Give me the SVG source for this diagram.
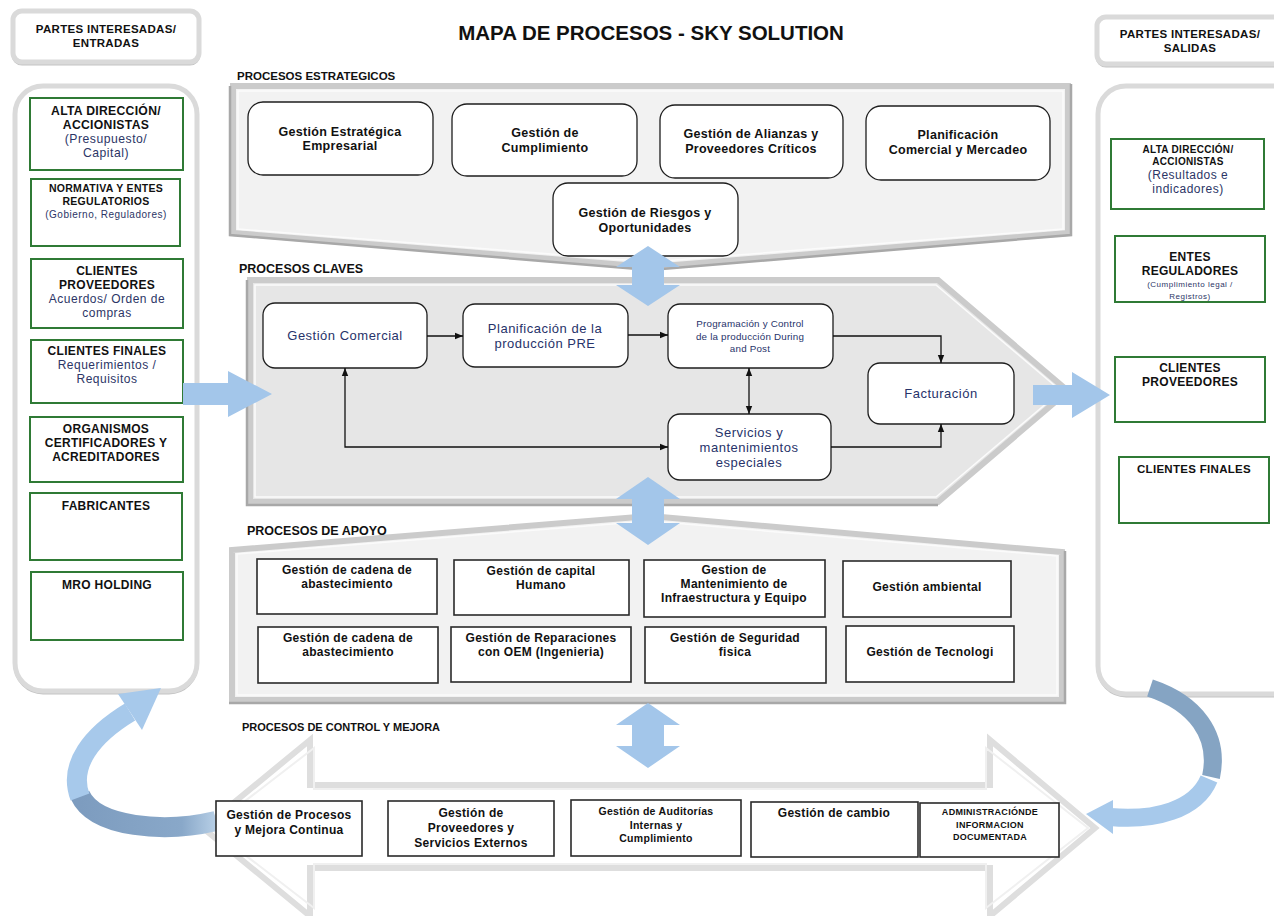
<svg xmlns="http://www.w3.org/2000/svg" width="1274" height="916" viewBox="0 0 1274 916">
  <style>
    text { font-family: "Liberation Sans", Arial, sans-serif; text-anchor: middle; letter-spacing: 0.3px; }
    .h { font-weight: 700; fill: #111; }
    .sec { font-weight: 700; fill: #111; text-anchor: start; letter-spacing: 0; }
    .nv { fill: #2c3566; letter-spacing: 0.5px; }
    .kp { fill: #27336a; letter-spacing: 0.5px; }
    .frame { fill: #fff; stroke: #dadada; stroke-width: 5; }
    .shadow { fill: none; stroke: #c4c4c4; stroke-width: 3; }
    .panel { stroke: #cbcbcb; stroke-width: 6; stroke-linejoin: miter; }
    .edge { fill: none; stroke: #a8a8a8; stroke-width: 2.5; stroke-linejoin: miter; }
    .hl { fill: none; stroke: #fbfbfb; stroke-width: 1.5; }
    .green { fill: #fff; stroke: #2f7a35; stroke-width: 2; }
    .rbox { fill: #fff; stroke: #1e1e1e; stroke-width: 1.3; }
    .sbox { fill: #fff; stroke: #2a2a2a; stroke-width: 1.6; }
    .blue { fill: #a3c6ea; }
    .conn { fill: none; stroke: #111; stroke-width: 1.3; }
  </style>
  <defs>
    <marker id="ah" viewBox="0 0 10 10" refX="10" refY="5" markerWidth="8" markerHeight="8" markerUnits="userSpaceOnUse" orient="auto-start-reverse">
      <path d="M0,1 L10,5 L0,9 z" fill="#111"/>
    </marker>
    <linearGradient id="darkL" x1="0" y1="0" x2="1" y2="0">
      <stop offset="0" stop-color="#7d9cbf"/>
      <stop offset="0.75" stop-color="#89a8c9"/>
      <stop offset="1" stop-color="#b7cfe6"/>
    </linearGradient>
  </defs>

  <rect width="1274" height="916" fill="#fff"/>

  <!-- title -->
  <text x="651" y="40" class="h" font-size="20.5" style="letter-spacing:0">MAPA DE PROCESOS - SKY SOLUTION</text>

  <!-- stakeholder columns -->
  <g id="header-entradas">
    <rect x="13" y="13" width="186" height="51" rx="9" class="shadow"/>
    <rect x="13" y="11" width="186" height="51" rx="9" class="frame"/>
    <text x="106" y="33" class="h" font-size="11.5">PARTES INTERESADAS/</text>
    <text x="106" y="47" class="h" font-size="11.5">ENTRADAS</text>
  </g>
  <g id="header-salidas">
    <rect x="1097" y="19" width="200" height="47" rx="9" class="shadow"/>
    <rect x="1097" y="17" width="200" height="47" rx="9" class="frame"/>
    <text x="1190" y="38" class="h" font-size="11.5">PARTES INTERESADAS/</text>
    <text x="1190" y="52" class="h" font-size="11.5">SALIDAS</text>
  </g>
  <g id="panel-entradas">
    <rect x="15" y="88" width="182" height="605" rx="28" class="shadow"/>
    <rect x="15" y="86" width="182" height="605" rx="28" class="frame"/>
  </g>
  <g id="panel-salidas">
    <rect x="1098" y="88" width="210" height="608" rx="28" class="shadow"/>
    <rect x="1098" y="86" width="210" height="608" rx="28" class="frame"/>
  </g>

  <!-- process bands -->
  <g id="band-estrategicos">
    <polygon points="233,86 1068,86 1068,233 650,267 233,233" class="panel" fill="#f2f2f2"/>
    <polyline points="230,86 230,235 650,270 1071,235 1071,84" class="edge"/>
    <polygon points="238,91 1063,91 1063,229 650,262 238,229" class="hl"/>
  </g>
  <g id="band-claves">
    <polygon points="250,280 938,280 1068,391 938,502 250,502" class="panel" fill="#e6e6e6"/>
    <polyline points="247,280 247,505 938,505" class="edge" stroke="#b5b5b5"/>
    <polygon points="255,285 936,285 1061,391 936,497 255,497" class="hl"/>
  </g>
  <g id="band-apoyo">
    <polygon points="232,550 650,516 1062,552 1062,700 232,700" class="panel" fill="#f2f2f2"/>
    <polyline points="1065,551 1065,703 229,703" class="edge" stroke="#b8b8b8"/>
    <polygon points="237,554 650,521 1057,556 1057,695 237,695" class="hl"/>
  </g>
  <g id="band-control">
    <polygon points="203,828 310,740 310,785 990,785 990,740 1095,828 990,916 990,868 310,868 310,916" fill="#fff" stroke="#dedede" stroke-width="6"/>
    <polygon points="210,828 314,748 314,789 986,789 986,748 1088,828 986,908 986,864 314,864 314,908" fill="none" stroke="#f0f0f0" stroke-width="2"/>
  </g>

  <text x="237" y="80" class="sec" font-size="11.5">PROCESOS ESTRATEGICOS</text>
  <text x="239" y="273" class="sec" font-size="12.5">PROCESOS CLAVES</text>
  <text x="247" y="535" class="sec" font-size="12.5">PROCESOS DE APOYO</text>
  <text x="242" y="731" class="sec" font-size="11">PROCESOS DE CONTROL Y MEJORA</text>

  <!-- feedback loops -->
  <g id="loop-left">
    <path d="M216,821 C165,833 95,828 80,795" fill="none" stroke="url(#darkL)" stroke-width="20"/>
    <path d="M80,797 C68,765 92,735 130,712" fill="none" stroke="#a7c9eb" stroke-width="20"/>
    <polygon points="142,730 118,694 161,688" fill="#a7c9eb"/>
  </g>
  <g id="loop-right">
    <path d="M1150,688 C1195,703 1220,735 1211,777" fill="none" stroke="#85a4c3" stroke-width="18"/>
    <path d="M1209,779 C1196,810 1155,821 1110,817" fill="none" stroke="#a7c9eb" stroke-width="18"/>
    <polygon points="1113,800 1113,834 1086,814" fill="#a7c9eb"/>
  </g>

  <!-- inputs -->
  <g id="in-alta-direccion">
    <rect x="30" y="98" width="153" height="72" class="green"/>
    <text x="106" y="115" class="h" font-size="12.2">ALTA DIRECCIÓN/</text>
    <text x="106" y="129" class="h" font-size="12.2">ACCIONISTAS</text>
    <text x="106" y="143" class="nv" font-size="12.2">(Presupuesto/</text>
    <text x="106" y="157" class="nv" font-size="12.2">Capital)</text>
  </g>
  <g id="in-normativa">
    <rect x="31" y="179" width="149" height="67" class="green"/>
    <text x="106" y="192" class="h" font-size="10.5">NORMATIVA Y ENTES</text>
    <text x="106" y="205" class="h" font-size="10.5">REGULATORIOS</text>
    <text x="106" y="218" class="nv" font-size="10">(Gobierno, Reguladores)</text>
  </g>
  <g id="in-clientes-proveedores">
    <rect x="31" y="259" width="152" height="69" class="green"/>
    <text x="107" y="275" class="h" font-size="12">CLIENTES</text>
    <text x="107" y="289" class="h" font-size="12">PROVEEDORES</text>
    <text x="107" y="303" class="nv" font-size="12">Acuerdos/ Orden de</text>
    <text x="107" y="317" class="nv" font-size="12">compras</text>
  </g>
  <g id="in-clientes-finales">
    <rect x="31" y="340" width="152" height="63" class="green"/>
    <text x="107" y="355" class="h" font-size="12">CLIENTES FINALES</text>
    <text x="107" y="369" class="nv" font-size="12">Requerimientos /</text>
    <text x="107" y="383" class="nv" font-size="12">Requisitos</text>
  </g>
  <g id="in-organismos">
    <rect x="30" y="417" width="153" height="65" class="green"/>
    <text x="106" y="433" class="h" font-size="12">ORGANISMOS</text>
    <text x="106" y="447" class="h" font-size="12">CERTIFICADORES Y</text>
    <text x="106" y="461" class="h" font-size="12">ACREDITADORES</text>
  </g>
  <g id="in-fabricantes">
    <rect x="30" y="493" width="152" height="67" class="green"/>
    <text x="106" y="510" class="h" font-size="12">FABRICANTES</text>
  </g>
  <g id="in-mro">
    <rect x="31" y="572" width="152" height="68" class="green"/>
    <text x="107" y="589" class="h" font-size="12">MRO HOLDING</text>
  </g>

  <!-- outputs -->
  <g id="out-alta-direccion">
    <rect x="1111" y="139" width="153" height="70" class="green"/>
    <text x="1188" y="153" class="h" font-size="10">ALTA DIRECCIÓN/</text>
    <text x="1188" y="165" class="h" font-size="10">ACCIONISTAS</text>
    <text x="1188" y="179" class="nv" font-size="12">(Resultados e</text>
    <text x="1188" y="193" class="nv" font-size="12">indicadores)</text>
  </g>
  <g id="out-entes">
    <rect x="1115" y="236" width="150" height="66" class="green"/>
    <text x="1190" y="261" class="h" font-size="12">ENTES</text>
    <text x="1190" y="275" class="h" font-size="12">REGULADORES</text>
    <text x="1190" y="287" class="nv" font-size="8">(Cumplimiento legal /</text>
    <text x="1190" y="299" class="nv" font-size="8">Registros)</text>
  </g>
  <g id="out-clientes-proveedores">
    <rect x="1115" y="357" width="150" height="65" class="green"/>
    <text x="1190" y="372" class="h" font-size="12">CLIENTES</text>
    <text x="1190" y="386" class="h" font-size="12">PROVEEDORES</text>
  </g>
  <g id="out-clientes-finales">
    <rect x="1119" y="457" width="150" height="66" class="green"/>
    <text x="1194" y="473" class="h" font-size="11.5">CLIENTES FINALES</text>
  </g>

  <!-- strategic processes -->
  <g id="est-estrategica">
    <rect x="248" y="102" width="185" height="73" rx="15" class="rbox"/>
    <text x="340" y="136" class="h" font-size="12.5">Gestión Estratégica</text>
    <text x="340" y="150" class="h" font-size="12.5">Empresarial</text>
  </g>
  <g id="est-cumplimiento">
    <rect x="452" y="104" width="185" height="72" rx="15" class="rbox"/>
    <text x="545" y="137" class="h" font-size="12.5">Gestión de</text>
    <text x="545" y="152" class="h" font-size="12.5">Cumplimiento</text>
  </g>
  <g id="est-alianzas">
    <rect x="660" y="105" width="183" height="73" rx="15" class="rbox"/>
    <text x="751" y="138" class="h" font-size="12.5">Gestión de Alianzas y</text>
    <text x="751" y="153" class="h" font-size="12.5">Proveedores Críticos</text>
  </g>
  <g id="est-planificacion">
    <rect x="866" y="106" width="184" height="74" rx="15" class="rbox"/>
    <text x="958" y="139" class="h" font-size="12.5">Planificación</text>
    <text x="958" y="154" class="h" font-size="12.5">Comercial y Mercadeo</text>
  </g>
  <g id="est-riesgos">
    <rect x="553" y="183" width="185" height="73" rx="15" class="rbox"/>
    <text x="645" y="217" class="h" font-size="12.5">Gestión de Riesgos y</text>
    <text x="645" y="232" class="h" font-size="12.5">Oportunidades</text>
  </g>

  <!-- key processes -->
  <g id="key-comercial">
    <rect x="263" y="303" width="164" height="65" rx="12" class="rbox"/>
    <text x="345" y="340" class="kp" font-size="13">Gestión Comercial</text>
  </g>
  <g id="key-pre">
    <rect x="463" y="304" width="165" height="63" rx="12" class="rbox"/>
    <text x="545" y="333" class="kp" font-size="13">Planificación de la</text>
    <text x="545" y="348" class="kp" font-size="13">producción PRE</text>
  </g>
  <g id="key-programacion">
    <rect x="668" y="304" width="165" height="64" rx="12" class="rbox"/>
    <text x="750" y="327" class="kp" font-size="9.8" style="letter-spacing:0.2px">Programación y Control</text>
    <text x="750" y="340" class="kp" font-size="9.8" style="letter-spacing:0.2px">de la producción During</text>
    <text x="750" y="352" class="kp" font-size="9.8" style="letter-spacing:0.2px">and Post</text>
  </g>
  <g id="key-servicios">
    <rect x="668" y="414" width="163" height="66" rx="12" class="rbox"/>
    <text x="749" y="437" class="kp" font-size="13">Servicios y</text>
    <text x="749" y="452" class="kp" font-size="13">mantenimientos</text>
    <text x="749" y="467" class="kp" font-size="13">especiales</text>
  </g>
  <g id="key-facturacion">
    <rect x="868" y="363" width="146" height="61" rx="12" class="rbox"/>
    <text x="941" y="398" class="kp" font-size="13">Facturación</text>
  </g>

  <!-- support processes -->
  <g id="apo-cadena-1">
    <rect x="257" y="559" width="180" height="55" class="sbox"/>
    <text x="347" y="574" class="h" font-size="12">Gestión de cadena de</text>
    <text x="347" y="588" class="h" font-size="12">abastecimiento</text>
  </g>
  <g id="apo-capital">
    <rect x="454" y="560" width="175" height="55" class="sbox"/>
    <text x="541" y="575" class="h" font-size="12">Gestión de capital</text>
    <text x="541" y="589" class="h" font-size="12">Humano</text>
  </g>
  <g id="apo-mantenimiento">
    <rect x="644" y="560" width="181" height="57" class="sbox"/>
    <text x="734" y="574" class="h" font-size="12">Gestion de</text>
    <text x="734" y="588" class="h" font-size="12">Mantenimiento de</text>
    <text x="734" y="602" class="h" font-size="12">Infraestructura y Equipo</text>
  </g>
  <g id="apo-ambiental">
    <rect x="843" y="561" width="168" height="56" class="sbox"/>
    <text x="927" y="591" class="h" font-size="12">Gestión ambiental</text>
  </g>
  <g id="apo-cadena-2">
    <rect x="258" y="627" width="180" height="56" class="sbox"/>
    <text x="348" y="642" class="h" font-size="12">Gestión de cadena de</text>
    <text x="348" y="656" class="h" font-size="12">abastecimiento</text>
  </g>
  <g id="apo-reparaciones">
    <rect x="451" y="627" width="180" height="55" class="sbox"/>
    <text x="541" y="642" class="h" font-size="12">Gestión de Reparaciones</text>
    <text x="541" y="656" class="h" font-size="12">con OEM (Ingenieria)</text>
  </g>
  <g id="apo-seguridad">
    <rect x="645" y="627" width="181" height="56" class="sbox"/>
    <text x="735" y="642" class="h" font-size="12">Gestión de Seguridad</text>
    <text x="735" y="656" class="h" font-size="12">fisica</text>
  </g>
  <g id="apo-tecnologia">
    <rect x="846" y="626" width="168" height="56" class="sbox"/>
    <text x="930" y="656" class="h" font-size="12">Gestión de Tecnologi</text>
  </g>

  <!-- control and improvement processes -->
  <g id="ctl-mejora">
    <rect x="216" y="801" width="146" height="55" class="sbox"/>
    <text x="289" y="819" class="h" font-size="12">Gestión de Procesos</text>
    <text x="289" y="834" class="h" font-size="12">y Mejora Continua</text>
  </g>
  <g id="ctl-proveedores">
    <rect x="388" y="801" width="166" height="55" class="sbox"/>
    <text x="471" y="817" class="h" font-size="12">Gestión de</text>
    <text x="471" y="832" class="h" font-size="12">Proveedores y</text>
    <text x="471" y="847" class="h" font-size="12">Servicios Externos</text>
  </g>
  <g id="ctl-auditorias">
    <rect x="571" y="800" width="170" height="56" class="sbox"/>
    <text x="656" y="815" class="h" font-size="10.5">Gestión de Auditorías</text>
    <text x="656" y="829" class="h" font-size="10.5">Internas y</text>
    <text x="656" y="842" class="h" font-size="10.5">Cumplimiento</text>
  </g>
  <g id="ctl-cambio">
    <rect x="751" y="802" width="167" height="55" class="sbox"/>
    <text x="834" y="817" class="h" font-size="12">Gestión de cambio</text>
  </g>
  <g id="ctl-documentada">
    <rect x="920" y="803" width="139" height="54" class="sbox"/>
    <text x="990" y="815" class="h" font-size="9">ADMINISTRACIÓNDE</text>
    <text x="990" y="828" class="h" font-size="9">INFORMACION</text>
    <text x="990" y="840" class="h" font-size="9">DOCUMENTADA</text>
  </g>

  <!-- connectors -->
  <g id="connectors">
    <path class="conn" d="M427,336 H463" marker-end="url(#ah)"/>
    <path class="conn" d="M628,335 H668" marker-end="url(#ah)"/>
    <path class="conn" d="M833,336 H941 V363" marker-end="url(#ah)"/>
    <path class="conn" d="M831,447 H941 V424" marker-end="url(#ah)"/>
    <path class="conn" d="M749,368 V414" marker-start="url(#ah)" marker-end="url(#ah)"/>
    <path class="conn" d="M345,368 V447 H668" marker-start="url(#ah)" marker-end="url(#ah)"/>

    <!-- flow arrows between bands and columns -->
    <polygon class="blue" points="183,383 228,383 228,371 272,394 228,417 228,405 183,405"/>
    <polygon class="blue" points="1033,385 1072,385 1072,372 1110,395 1072,418 1072,405 1033,405"/>
    <polygon class="blue" points="648,246 680,267 664,267 664,285 680,285 648,306 616,285 632,285 632,267 616,267"/>
    <polygon class="blue" points="648,477 680,499 664,499 664,523 680,523 648,545 616,523 632,523 632,499 616,499"/>
    <polygon class="blue" points="648,703 680,725 664,725 664,746 680,746 648,768 616,746 632,746 632,725 616,725"/>
  </g>
</svg>
